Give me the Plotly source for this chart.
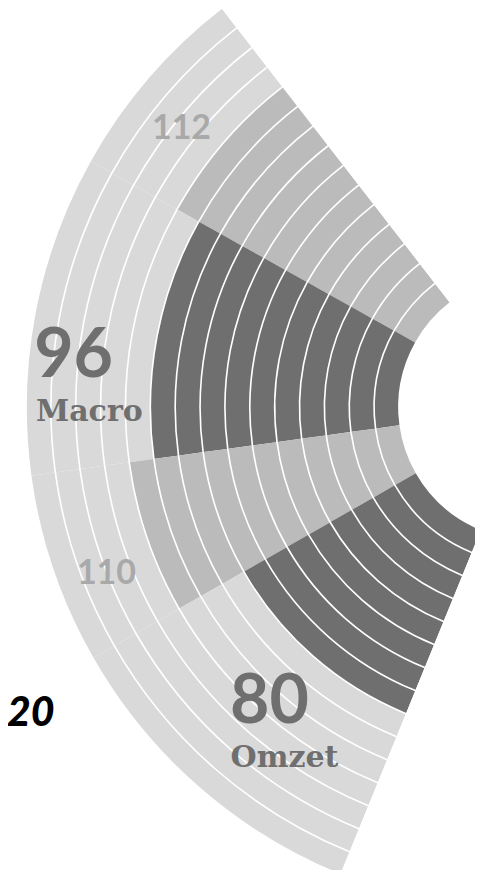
import math
import plotly.graph_objects as go

# ---------------- data ----------------
categories = ["Macro", "Omzet"]
previous_values = [112, 110]   # narrow, mid-grey sectors
current_values = [96, 80]      # wide, dark sectors
year_label = "20"
ring_step = 10                 # one ring = 10 units
ring_count = 15                # scale goes up to 150

# sector order, top to bottom
segment_values = [previous_values[0], current_values[0], previous_values[1], current_values[1]]
segment_kind = ["prev", "cur", "prev", "cur"]

# ---------------- style / layout ----------------
segment_widths = [23, 37, 22, 38]      # degrees
sector_start = 127.8
sector_end = sector_start + sum(segment_widths)
LIGHT, MID, DARK = "#d9d9d9", "#bbbbbb", "#6f6f6f"
fill_color = {"prev": MID, "cur": DARK}
GAP = 0.065                             # white separation between rings (radial units)

BODY = 8                                # default page margin of the html body
CX, CY, R, R_IN = 531, 407, 505, 132    # wanted centre / radii on the page

# ---------------- cells ----------------
thetas, widths, bases, rs, colors = [], [], [], [], []
edge = sector_start
for val, kind, w in zip(segment_values, segment_kind, segment_widths):
    mid = edge + w / 2
    filled = int(round(val / ring_step))
    for k in range(ring_count):
        thetas.append(mid)
        widths.append(w)
        bases.append(k + GAP / 2)
        rs.append(1 - GAP)
        colors.append(fill_color[kind] if k < filled else LIGHT)
    edge += w

fig = go.Figure()
fig.add_trace(go.Barpolar(
    theta=thetas, r=rs, base=bases, width=widths,
    marker=dict(color=colors, line=dict(width=0)),
    hoverinfo="skip", showlegend=False,
))

# ---------------- labels ----------------
label_specs = [
    # text, theta, r, position, family, size, color
    (str(previous_values[0]), 141.66, 12.61, "middle center", "Lato", 34, "#a9a9a9"),
    (str(current_values[0]), 174.6, 14.76, "middle right", "Lato", 68, DARK),
    (categories[0], 180.69, 14.60, "middle right", "DejaVu Serif", 30, DARK),
    (str(previous_values[1]), 201.66, 13.06, "middle center", "Lato", 34, "#a9a9a9"),
    (str(current_values[1]), 224.77, 11.74, "middle right", "Lato", 68, DARK),
    (categories[1], 229.54, 13.31, "middle right", "DejaVu Serif", 30, DARK),
]
for txt, th, rr, pos, fam, sz, col in label_specs:
    fig.add_trace(go.Scatterpolar(
        theta=[th], r=[rr], mode="text", text=[txt], textposition=pos,
        textfont=dict(family=fam, size=sz, color=col, weight="bold"),
        cliponaxis=False, hoverinfo="skip", showlegend=False,
    ))

# ---------------- geometry ----------------
y_top = math.sin(math.radians(sector_start))
y_bot = math.sin(math.radians(sector_end))
ml = max(0.0, CX - BODY - R)
mt = max(0.0, CY - BODY - R * y_top)
W = ml + R
H = mt + R * (y_top - y_bot)
plot_w, plot_h = W - ml, H - mt

fig.update_layout(
    width=W, height=H,
    margin=dict(l=ml, r=0, t=mt, b=0, pad=0, autoexpand=False),
    paper_bgcolor="white",
    showlegend=False,
    polar=dict(
        domain=dict(x=[0, 1], y=[0, 1]),
        sector=[sector_start, sector_end],
        hole=R_IN / R,
        bgcolor="white",
        radialaxis=dict(range=[0, ring_count], visible=False, showgrid=False),
        angularaxis=dict(visible=False, showgrid=False, direction="counterclockwise", rotation=0),
    ),
    annotations=[dict(
        text=year_label, xref="paper", yref="paper",
        x=(57 - BODY - ml) / plot_w, y=1 - (710 - BODY - mt) / plot_h,
        xanchor="right", yanchor="middle", showarrow=False,
        font=dict(family="Lato", size=41, color="black", weight=900, style="italic"),
    )],
)

fig.write_html("out.html")
